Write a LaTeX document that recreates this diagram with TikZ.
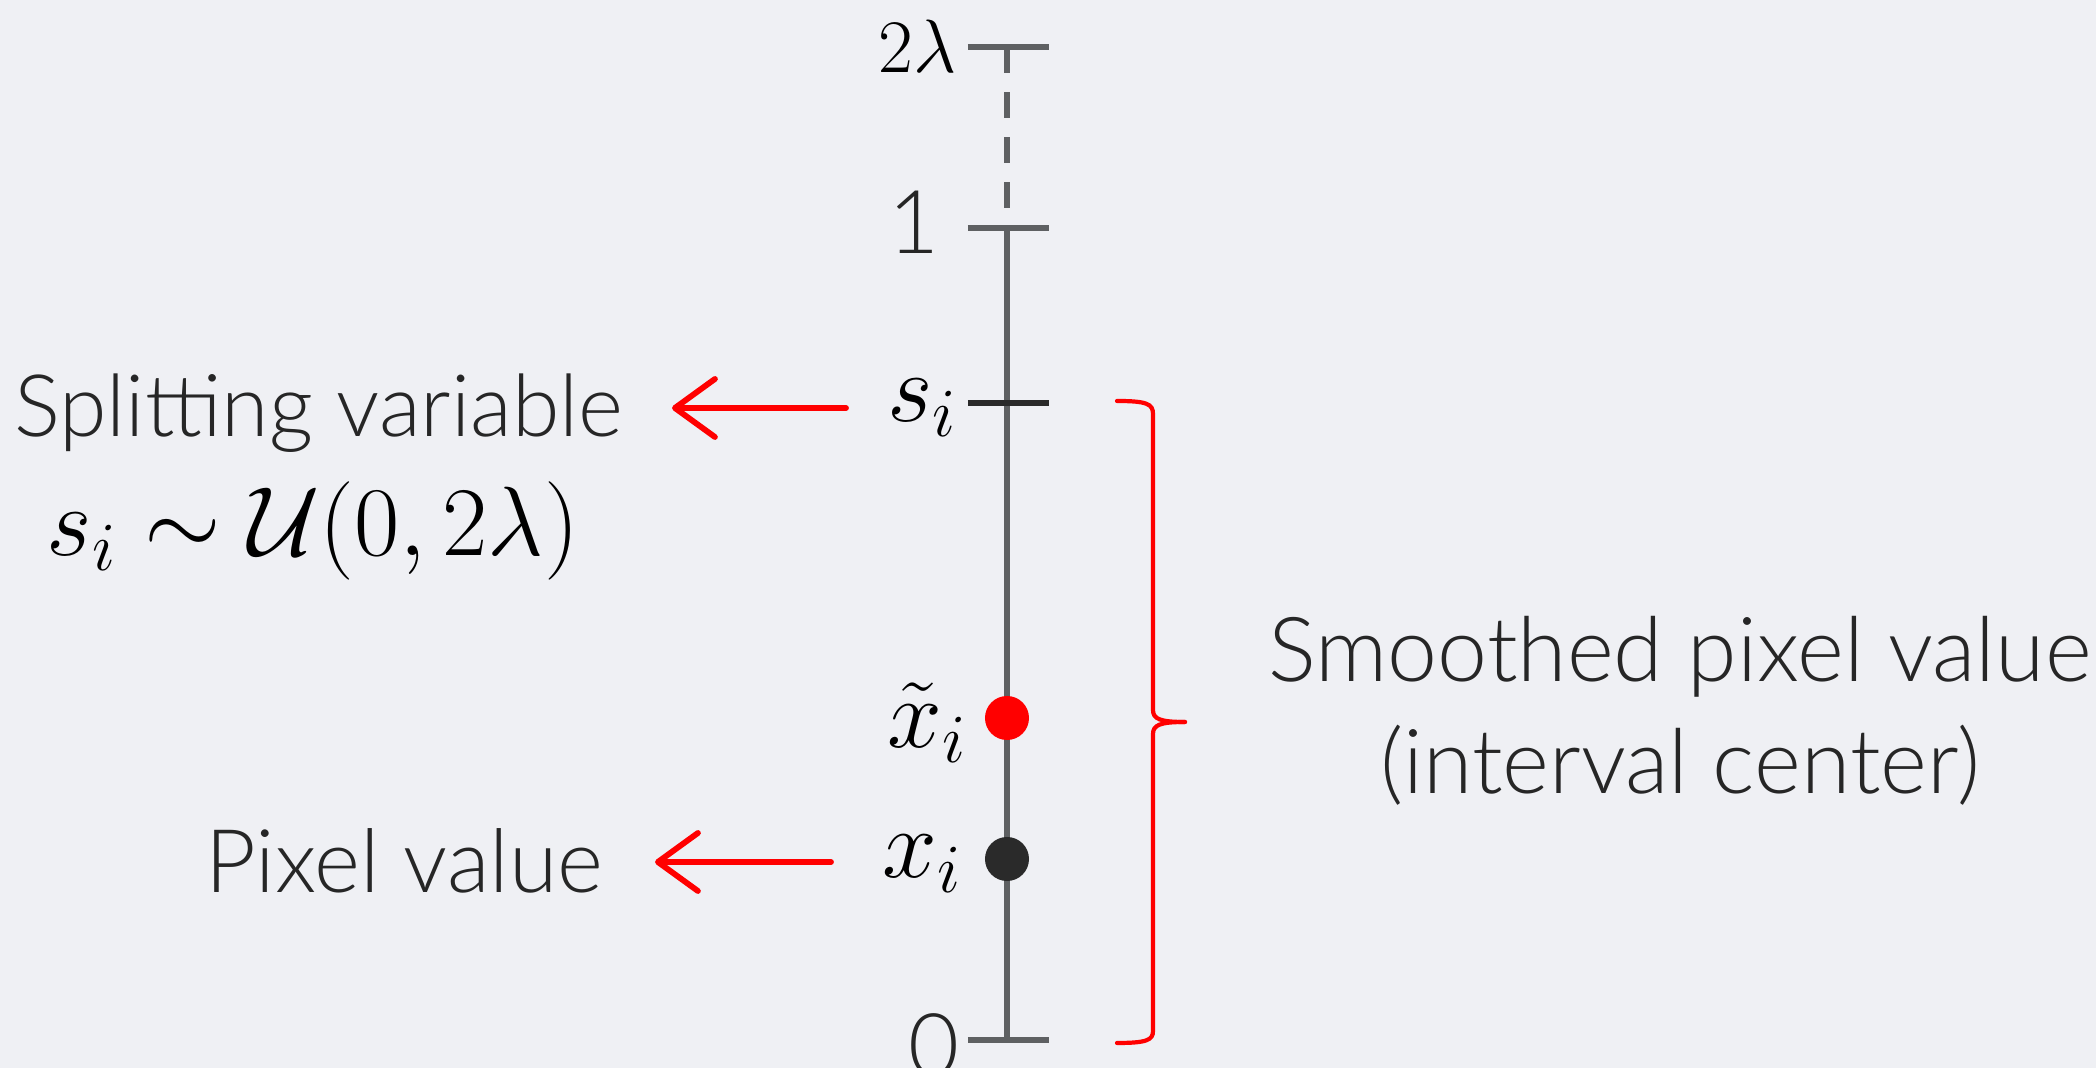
\RequirePackage{fix-cm}
\documentclass[tikz,border=0pt]{standalone}
\usepackage{fontspec}
\setmainfont{Lato Light}
\usetikzlibrary{arrows.meta}
\definecolor{bg}{RGB}{239,240,244}
\definecolor{axisgray}{RGB}{94,96,98}
\definecolor{darktick}{RGB}{42,42,42}
\definecolor{ink}{RGB}{38,38,38}
\definecolor{redc}{RGB}{255,0,0}
\begin{document}
\begin{tikzpicture}[x=0.01cm,y=-0.01cm,
  axisline/.style={draw=axisgray,line width=0.065cm},
  tickmark/.style={draw=axisgray,line width=0.065cm},
  lbl/.style={inner sep=0pt,text=ink,font=\fontsize{25}{30}\selectfont},
  mlbl/.style={inner sep=0pt,text=black,font=\fontsize{28}{34}\selectfont},
  redarrow/.style={draw=redc,line width=0.058cm,line cap=round,-{Straight Barb[length=0.4cm,width=0.58cm,round]}},
  bracepath/.style={draw=redc,line width=0.042cm,line cap=round}]
\fill[bg] (0,0) rectangle (2096,1068);
\useasboundingbox (0,0) rectangle (2096,1068);
% axis points
\coordinate (top) at (1007,47);
\coordinate (one) at (1007,228);
\coordinate (si) at (1007,403);
\coordinate (zero) at (1007,1040);
% axis
\draw[axisline, dash pattern=on 0.26cm off 0.19cm] (top) -- (one);
\draw[axisline] (one) -- (zero);
% ticks
\draw[tickmark] ([xshift=-0.39cm]top) -- ([xshift=0.42cm]top);
\draw[tickmark] ([xshift=-0.39cm]one) -- ([xshift=0.42cm]one);
\draw[tickmark,draw=darktick] ([xshift=-0.39cm]si) -- ([xshift=0.42cm]si);
\draw[tickmark] ([xshift=-0.39cm]zero) -- ([xshift=0.42cm]zero);
% dots
\node[circle,fill=redc,minimum size=0.44cm,inner sep=0pt] (xt) at (1007,718) {};
\node[circle,fill=darktick,minimum size=0.44cm,inner sep=0pt] (xi) at (1007,859) {};
% axis labels
\node[mlbl,anchor=base east,font=\fontsize{21.5}{26}\selectfont] (ltwo) at (957,73) {$2\lambda$};
\node[lbl,anchor=base east] (lone) at (940,254) {1};
\node[lbl,anchor=base east] (lzero) at (960,1077) {0};
\node[mlbl,anchor=base east] (lsi) at (958,422) {$s_i$};
\node[mlbl,anchor=base east] (lxt) at (968,748) {$\tilde{x}_i$};
\node[mlbl,anchor=base east] (lxi) at (963,878) {$x_i$};
% left texts
\node[lbl,anchor=base east,font=\fontsize{24.5}{30}\selectfont] (split) at (624,437) {Splitting variable};
\node[mlbl,anchor=base west] (dist) at (46,556) {$s_i \sim \mathcal{U}(0,2\lambda)$};
\node[lbl,anchor=base east] (pix) at (604,893) {Pixel value};
% right texts
\node[lbl,anchor=base,font=\fontsize{25.5}{30}\selectfont] (sm1) at (1680,682) {Smoothed pixel value};
\node[lbl,anchor=base,font=\fontsize{25.5}{30}\selectfont] (sm2) at (1680,794) {(interval center)};
% arrows
\coordinate (a1s) at (846,408);
\coordinate (a1e) at (672,408);
\coordinate (a2s) at (831,862);
\coordinate (a2e) at (655,862);
\draw[redarrow] (a1s) -- (a1e);
\draw[redarrow] (a2s) -- (a2e);
% brace
\draw[bracepath] (1117,401) .. controls (1147,401) and (1153,404) .. (1153,414)
  -- (1153,710) .. controls (1153,719) and (1160,722) .. (1185,722);
\draw[bracepath] (1185,722) .. controls (1160,722) and (1153,725) .. (1153,734)
  -- (1153,1031) .. controls (1153,1040) and (1147,1043) .. (1117,1043);
\end{tikzpicture}
\end{document}
